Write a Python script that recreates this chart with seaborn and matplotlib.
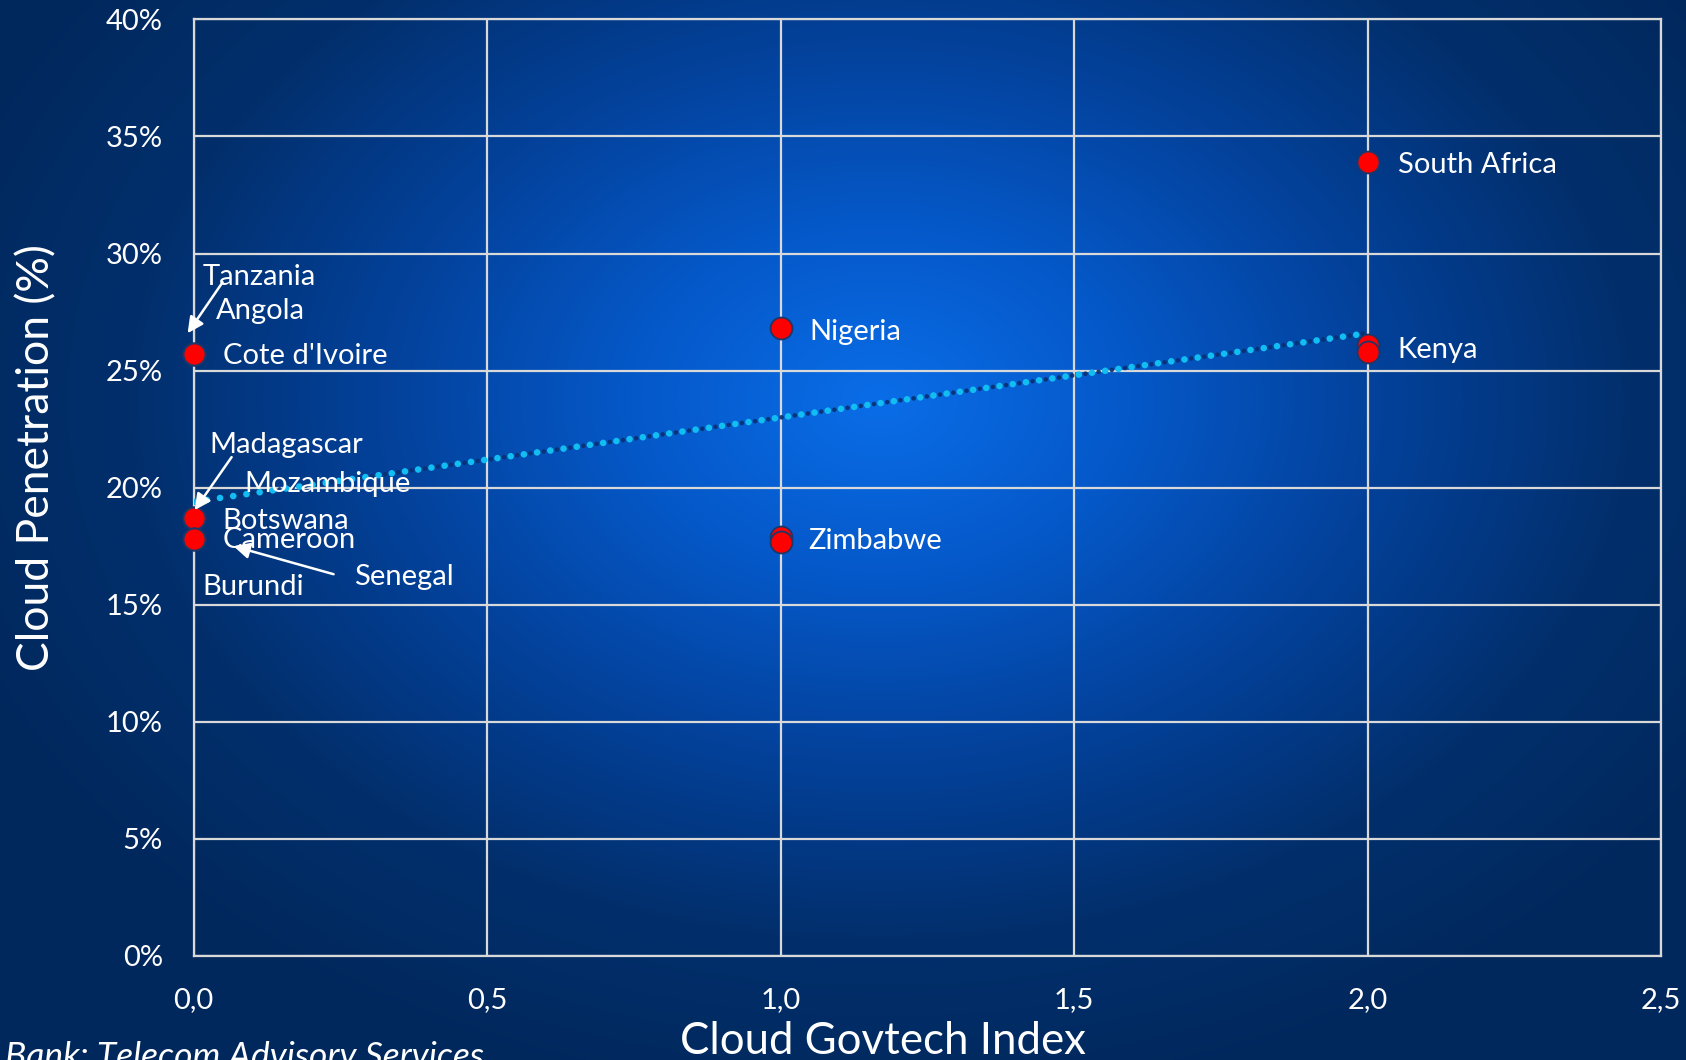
import numpy as np
import pandas as pd
import matplotlib
matplotlib.use("Agg")
import matplotlib.pyplot as plt
from matplotlib.transforms import offset_copy
from matplotlib.colors import LinearSegmentedColormap
import seaborn as sns

# ---- data ---------------------------------------------------------------
countries = ["Tanzania", "Angola", "Cote d'Ivoire",
             "Madagascar", "Mozambique", "Botswana",
             "Cameroon", "Senegal", "Burundi",
             "Nigeria", "Zimbabwe", "",
             "South Africa", "Kenya", ""]
govtech_index = [0, 0, 0,
                 0, 0, 0,
                 0, 0, 0,
                 1, 1, 1,
                 2, 2, 2]
cloud_penetration = [25.7, 25.7, 25.7,
                     18.7, 18.7, 18.7,
                     17.8, 17.8, 17.8,
                     26.8, 17.9, 17.7,
                     33.9, 26.1, 25.8]

# linear trend shown across the index range
trend_index = [0.0, 2.0]
trend_penetration = [19.4, 26.6]

x_ticks = [0.0, 0.5, 1.0, 1.5, 2.0, 2.5]
x_tick_labels = ["0,0", "0,5", "1,0", "1,5", "2,0", "2,5"]
y_ticks = [0, 5, 10, 15, 20, 25, 30, 35, 40]
y_tick_labels = ["0%", "5%", "10%", "15%", "20%", "25%", "30%", "35%", "40%"]

x_title = "Cloud Govtech Index"
y_title = "Cloud Penetration (%)"
source_note = "Bank: Telecom Advisory Services"

# label placement: (dx, dy) in pixels from the point, dy downward
label_offsets = {
    "Tanzania": (9, -69), "Angola": (22, -35), "Cote d'Ivoire": (29, 10),
    "Madagascar": (16, -65), "Mozambique": (51, -26), "Botswana": (29, 11),
    "Cameroon": (29, 9), "Senegal": (160, 46), "Burundi": (9, 56),
    "Nigeria": (29, 12), "Zimbabwe": (28, 12),
    "South Africa": (30, 11), "Kenya": (30, 13),
}
# callout arrows: anchor country, tip offset, tail offset (pixels, dy downward)
callouts = [
    ("Tanzania", (-6, -21), (29, -72)),
    ("Madagascar", (1, -8), (38, -61)),
    ("Senegal", (40, 7), (140, 35)),
]

df = pd.DataFrame({"country": countries, "index": govtech_index,
                   "penetration": cloud_penetration})
trend = pd.DataFrame({"index": trend_index, "penetration": trend_penetration})

# ---- style --------------------------------------------------------------
sns.set_theme(style="white")
plt.rcParams["font.family"] = ["Lato", "DejaVu Sans"]
plt.rcParams["lines.scale_dashes"] = False

W, H = 1686, 1060
fig = plt.figure(figsize=(W / 100, H / 100), dpi=100)

# radial blue glow behind everything
bg = fig.add_axes([0, 0, 1, 1], zorder=-10)
yy, xx = np.mgrid[0:H, 0:W]
r = np.sqrt(((xx - 880) / 1000.0) ** 2 + ((yy - 400) / 720.0) ** 2)
glow = LinearSegmentedColormap.from_list(
    "glow", ["#0a6de8", "#0558c8", "#03419a", "#022f6c", "#01285c"])
bg.imshow(np.clip(r, 0, 1), cmap=glow, vmin=0, vmax=1, aspect="auto",
          extent=[0, 1, 0, 1], origin="upper")
bg.set_axis_off()

ax = fig.add_axes([193.6 / W, 1 - 956 / H, 1467.4 / W, 936.6 / H])
ax.set_facecolor("none")

# trend line: cyan round dots with darker dots in between
sns.lineplot(data=trend, x="index", y="penetration", ax=ax, color="#0b2f6e",
             linewidth=3.4, linestyle=(4.8, (0.01, 9.6)),
             dash_capstyle="round", zorder=3, alpha=0.9)
sns.lineplot(data=trend, x="index", y="penetration", ax=ax, color="#12bdf2",
             linewidth=4.8, linestyle=(0, (0.01, 9.6)),
             dash_capstyle="round", zorder=4)

sns.scatterplot(data=df, x="index", y="penetration", ax=ax, color="#ff0000",
                s=250, edgecolor="#1d3768", linewidth=1.3, zorder=5)
for coll in ax.collections:
    coll.set_clip_on(False)

ax.set_xlim(0, 2.5)
ax.set_ylim(0, 40)
ax.set_xticks(x_ticks)
ax.set_xticklabels(x_tick_labels)
ax.set_yticks(y_ticks)
ax.set_yticklabels(y_tick_labels)
ax.tick_params(axis="both", length=0, pad=22, labelsize=21, labelcolor="white")

ax.grid(True, color="#d9d9d9", linewidth=1.6)
for s in ax.spines.values():
    s.set_color("#d9d9d9")
    s.set_linewidth(1.6)
ax.set_axisbelow(True)

ax.set_xlabel(x_title, fontsize=31.5, color="white", va="baseline", ha="center")
ax.xaxis.set_label_coords((883 - 193.6) / 1467.4, (956 - 1054) / 936.6)
ax.set_ylabel(y_title, fontsize=32, color="white", va="center", ha="center")
ax.yaxis.set_label_coords((36.6 - 193.6) / 1467.4, (956 - 458) / 936.6)

# country labels
for name, x, y in zip(df["country"], df["index"], df["penetration"]):
    if name in label_offsets:
        dx, dy = label_offsets[name]
        ax.annotate(name, xy=(x, y), xytext=(dx, -dy), textcoords="offset pixels",
                    ha="left", va="baseline", fontsize=21, color="white",
                    zorder=6, annotation_clip=False)

# callout arrows
for name, (tx, ty), (sx, sy) in callouts:
    row = df[df["country"] == name].iloc[0]
    p = (row["index"], row["penetration"])
    ax.annotate("", xy=p, xycoords=offset_copy(ax.transData, fig=fig, x=tx, y=-ty, units="dots"),
                xytext=p, textcoords=offset_copy(ax.transData, fig=fig, x=sx, y=-sy, units="dots"),
                arrowprops=dict(arrowstyle="-|>", color="white", lw=1.8,
                                mutation_scale=24, shrinkA=0, shrinkB=0),
                zorder=6, annotation_clip=False)

fig.text(5 / W, 1 - 1067 / H, source_note, fontsize=25.5, color="white",
         style="italic", ha="left", va="baseline")

fig.savefig("out.png", dpi=100)
